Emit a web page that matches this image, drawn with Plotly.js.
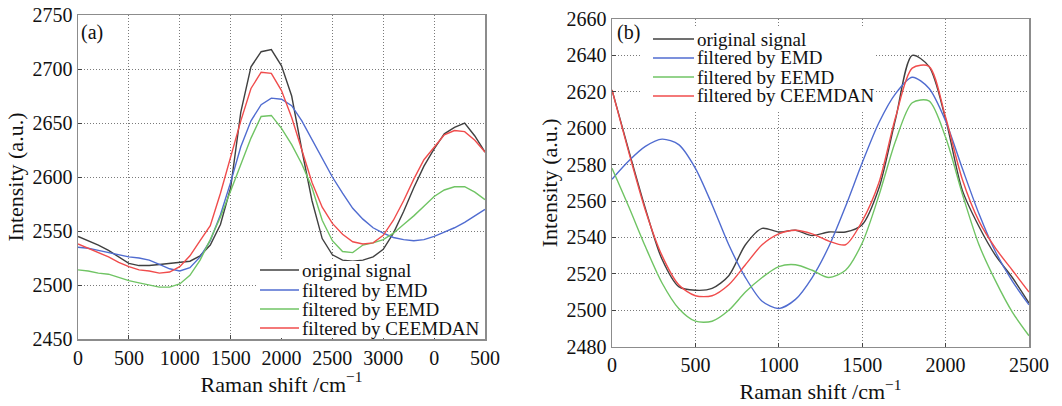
<!DOCTYPE html>
<html>
<head>
<meta charset="utf-8">
<script src="https://cdn.plot.ly/plotly-3.0.1.min.js"></script>
<style>html,body{margin:0;padding:0;background:#fff;}#chart{width:1062px;height:406px;}</style>
</head>
<body>
<div id="chart"></div>
<script>
// ---------- Panel (a) data ----------
const xA = [0,100,200,300,400,500,600,700,800,900,1000,1100,1200,1300,1400,1500,1600,1700,1800,1900,2000,
            2100,2200,2300,2400,2500,2600,2700,2800,2900,3000,3100,3200,3300,3400,3500,3600,3700,3800,3900,4000];
const originalA = [2545,2541,2537,2532,2526,2520,2518,2518,2519,2520,2521,2522,2527,2537,2556,2590,2660,2702,2716,2718,2703,
                   2675,2625,2578,2543,2528,2523,2522,2523,2526,2533,2548,2568,2590,2610,2626,2640,2646,2650,2638,2623];
const emdA = [2535,2534,2532,2530,2528,2526,2525,2523,2519,2515,2513,2516,2526,2541,2565,2595,2628,2652,2667,2673,2672,
              2666,2652,2635,2617,2600,2585,2571,2561,2553,2548,2544,2542,2541,2542,2545,2549,2553,2558,2564,2570];
const eemdA = [2514,2513,2511,2510,2507,2504,2502,2500,2498,2498,2501,2509,2523,2542,2563,2587,2612,2636,2656,2657,2645,
               2630,2612,2590,2560,2541,2531,2530,2537,2539,2542,2548,2556,2564,2573,2582,2588,2591,2591,2586,2579];
const ceemdanA = [2538,2534,2530,2526,2521,2517,2514,2513,2511,2512,2517,2527,2541,2555,2585,2619,2652,2682,2697,2696,2680,
                  2655,2626,2595,2572,2557,2547,2540,2538,2539,2546,2560,2578,2598,2616,2628,2639,2643,2642,2634,2623];
const xTickValsA = [0,500,1000,1500,2000,2500,3000,3500,4000];
const xTickTextA = ['0','500','1000','1500','2000','2500','3000','0','500'];

// ---------- Panel (b) data ----------
const xB = [0,100,200,300,400,500,600,700,800,900,1000,1100,1200,1300,1400,1500,1600,1700,1800,1900,2000,2100,2200,2300,2400,2500];
const originalB = [2621,2588,2556,2528,2513,2511,2512,2519,2536,2545,2543,2544,2541,2543,2543,2547,2567,2605,2640,2634,2605,2566,2546,2530,2518,2504];
const emdB = [2572,2582,2590,2594,2591,2578,2558,2536,2518,2505,2501,2506,2518,2535,2557,2581,2603,2619,2628,2622,2604,2578,2553,2532,2516,2503];
const eemdB = [2578,2557,2535,2515,2501,2494,2494,2500,2510,2518,2524,2525,2522,2518,2522,2537,2563,2593,2614,2615,2595,2564,2536,2516,2499,2486];
const ceemdanB = [2621,2587,2555,2530,2514,2508,2508,2514,2525,2536,2542,2544,2542,2538,2536,2549,2570,2606,2633,2634,2606,2572,2549,2534,2522,2510];

const seriesNames = ['original signal','filtered by EMD','filtered by EEMD','filtered by CEEMDAN'];
const colors = ['#404040','#506cd0','#70c464','#f04c4c'];

const FONT = 'Liberation Serif, DejaVu Serif, Noto Serif, serif';
const TICK_SIZE = 20, TITLE_SIZE = 22, LEG_SIZE = 19;

const traces = [];
[originalA, emdA, eemdA, ceemdanA].forEach((ys,i)=>{
  traces.push({x:xA, y:ys, type:'scatter', mode:'lines', name:seriesNames[i], xaxis:'x', yaxis:'y',
    line:{color:colors[i], width:1.4}, showlegend:false});
});
[originalB, emdB, eemdB, ceemdanB].forEach((ys,i)=>{
  traces.push({x:xB, y:ys, type:'scatter', mode:'lines', name:seriesNames[i], xaxis:'x2', yaxis:'y2',
    line:{color:colors[i], width:1.4, shape:'spline', smoothing:0.8}, showlegend:false});
});

const W = 1062, H = 406;
function axisCommon(){
  return {showgrid:true, gridcolor:'#7a7a7a', griddash:'1px,2px', gridwidth:1, zeroline:false,
          showline:true, mirror:true, linecolor:'#8c8c8c', linewidth:1.5,
          ticks:'inside', ticklen:4, tickcolor:'#444', tickfont:{family:FONT, size:TICK_SIZE, color:'#111'}};
}

// Hand-built legends (compact row spacing like the reference)
const shapes = [];
const annotations = [];
function buildLegend(box, lineX0, lineX1, textX, rowsY){
  shapes.push({type:'rect', xref:'paper', yref:'paper', layer:'above',
    x0:box[0]/W, x1:box[1]/W, y0:1-box[3]/H, y1:1-box[2]/H, fillcolor:'#fff', line:{width:0}});
  rowsY.forEach((ry,i)=>{
    shapes.push({type:'line', xref:'paper', yref:'paper', layer:'above',
      x0:lineX0/W, x1:lineX1/W, y0:1-ry/H, y1:1-ry/H, line:{color:colors[i], width:1.6}});
    annotations.push({text:seriesNames[i], xref:'paper', yref:'paper', x:textX/W, y:1-ry/H,
      xanchor:'left', yanchor:'middle', showarrow:false, font:{family:FONT,size:LEG_SIZE,color:'#111'}});
  });
}
buildLegend([258,484,261,338], 260, 299, 300, [270,290,309,328]);
buildLegend([642,874,28,112], 653, 694, 695, [39,58,77,96]);

annotations.push({text:'(a)', xref:'paper', yref:'paper', x:79/W, y:1-33/H, xanchor:'left', yanchor:'middle', showarrow:false, font:{family:FONT,size:20,color:'#111'}});
annotations.push({text:'(b)', xref:'paper', yref:'paper', x:615/W, y:1-33/H, xanchor:'left', yanchor:'middle', showarrow:false, font:{family:FONT,size:20,color:'#111'}});

const layout = {
  width:W, height:H, margin:{l:0,r:0,t:0,b:0},
  paper_bgcolor:'#fff', plot_bgcolor:'#fff',
  font:{family:FONT, size:TICK_SIZE, color:'#111'},
  showlegend:false,
  xaxis:Object.assign(axisCommon(), {domain:[78/W,485/W], range:[0,4000], anchor:'y',
     tickmode:'array', tickvals:xTickValsA, ticktext:xTickTextA,
     title:{text:'Raman shift /cm<sup>−1</sup>', font:{family:FONT,size:TITLE_SIZE}, standoff:4}}),
  yaxis:Object.assign(axisCommon(), {domain:[1-339/H,1-15/H], range:[2450,2750], dtick:50, anchor:'x',
     title:{text:'Intensity (a.u.)', font:{family:FONT,size:TITLE_SIZE}, standoff:3}}),
  xaxis2:Object.assign(axisCommon(), {domain:[612/W,1029/W], range:[0,2500], dtick:500, anchor:'y2',
     title:{text:'Raman shift /cm<sup>−1</sup>', font:{family:FONT,size:TITLE_SIZE}, standoff:4}}),
  yaxis2:Object.assign(axisCommon(), {domain:[1-346.7/H,1-19/H], range:[2480,2660], dtick:20, anchor:'x2',
     title:{text:'Intensity (a.u.)', font:{family:FONT,size:TITLE_SIZE}, standoff:3}}),
  shapes:shapes,
  annotations:annotations
};
Plotly.newPlot('chart', traces, layout, {displayModeBar:false, staticPlot:true});
</script>
</body>
</html>
